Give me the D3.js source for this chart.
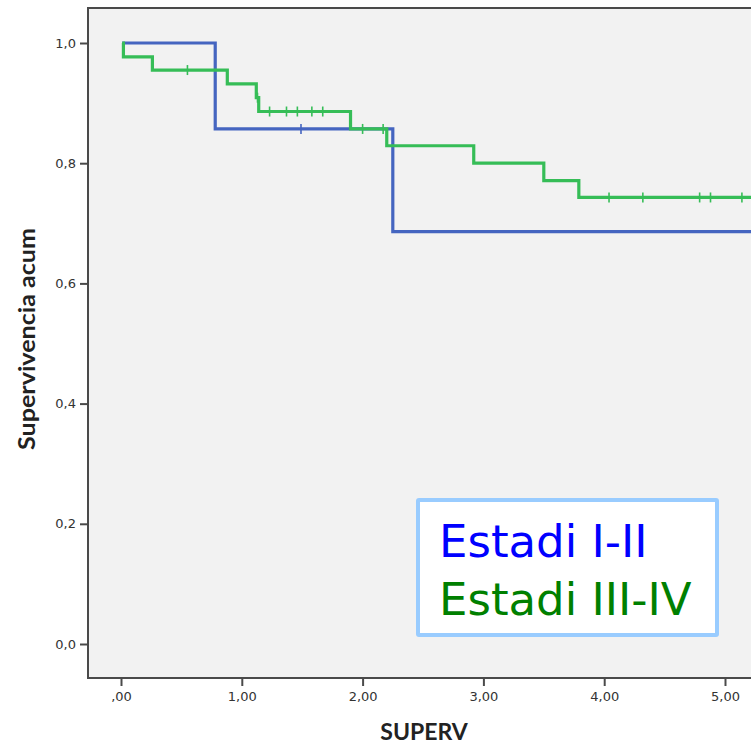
<!DOCTYPE html>
<html>
<head>
<meta charset="utf-8">
<script src="https://cdn.jsdelivr.net/npm/d3@7"></script>
<style>
  html, body { margin: 0; padding: 0; background: #ffffff; }
  svg { display: block; }
</style>
</head>
<body>
<svg id="chart" width="751" height="745"></svg>
<script>
// Kaplan–Meier survival by stage (SUPERV in years)
const groups = ["Estadi I-II", "Estadi III-IV"];
const legendColors = ["#0000ff", "#008000"];
const lineColors = ["#4565c0", "#36bd57"];

// Estadi I-II
const eventTimesA = [0.78, 2.25];
const survivalA = [1.0, 0.857, 0.686];
const censorTimesA = [1.49];

// Estadi III-IV
const eventTimesB = [0.02, 0.26, 0.88, 1.12, 1.14, 1.90, 2.20, 2.92, 3.50, 3.79];
const survivalB = [1.0, 0.977, 0.955, 0.932, 0.909, 0.886, 0.857, 0.829, 0.800, 0.771, 0.743];
const censorTimesB = [0.55, 1.13, 1.23, 1.37, 1.46, 1.58, 1.67, 2.00, 2.17, 4.04, 4.32, 4.79, 4.88, 5.14];

const startTime = 0.01;
const endTime = 5.6;

const xTicks = [0, 1, 2, 3, 4, 5];
const xTickLabels = [",00", "1,00", "2,00", "3,00", "4,00", "5,00"];
const yTicks = [0, 0.2, 0.4, 0.6, 0.8, 1.0];
const yTickLabels = ["0,0", "0,2", "0,4", "0,6", "0,8", "1,0"];

const xTitle = "SUPERV";
const yTitle = "Supervivencia acum";

// layout
const frame = { left: 88, top: 8, right: 790, bottom: 678 };
const svg = d3.select("#chart");

const x = d3.scaleLinear().domain([0, 5]).range([121, 725]);
const y = d3.scaleLinear().domain([0, 1]).range([644, 43]);

svg.append("defs").append("clipPath").attr("id", "plotClip")
  .append("rect")
  .attr("x", frame.left).attr("y", frame.top)
  .attr("width", frame.right - frame.left).attr("height", frame.bottom - frame.top);

// plot background
svg.append("rect")
  .attr("x", frame.left).attr("y", frame.top)
  .attr("width", frame.right - frame.left).attr("height", frame.bottom - frame.top)
  .attr("fill", "#f2f2f2")
  .attr("stroke", "#4a4a4a").attr("stroke-width", 2);

// axes
const xAxis = d3.axisBottom(x).tickValues(xTicks)
  .tickFormat((d, i) => xTickLabels[i]).tickSize(8).tickSizeOuter(0);
const yAxis = d3.axisLeft(y).tickValues(yTicks)
  .tickFormat((d, i) => yTickLabels[i]).tickSize(8).tickSizeOuter(0);

const gx = svg.append("g").attr("transform", `translate(0,${frame.bottom})`).call(xAxis);
gx.select(".domain").remove();
gx.selectAll("line").attr("stroke", "#4a4a4a").attr("stroke-width", 2);
gx.selectAll("text").attr("font-family", "DejaVu Sans, Verdana, sans-serif")
  .attr("font-size", 13).attr("fill", "#333").attr("dy", "1.05em").attr("y", 9);

const gy = svg.append("g").attr("transform", `translate(${frame.left},0)`).call(yAxis);
gy.select(".domain").remove();
gy.selectAll("line").attr("stroke", "#4a4a4a").attr("stroke-width", 2);
gy.selectAll("text").attr("font-family", "DejaVu Sans, Verdana, sans-serif")
  .attr("font-size", 13).attr("fill", "#333").attr("x", -12);

// axis titles
svg.append("text")
  .attr("x", 424).attr("y", 740)
  .attr("text-anchor", "middle")
  .attr("font-family", "Lato, 'Open Sans', sans-serif")
  .attr("font-weight", "bold").attr("font-size", 23).attr("fill", "#222")
  .text(xTitle);

svg.append("text")
  .attr("transform", "translate(35,339) rotate(-90)")
  .attr("text-anchor", "middle")
  .attr("font-family", "Lato, 'Open Sans', sans-serif")
  .attr("font-weight", "bold").attr("font-size", 23).attr("fill", "#222")
  .attr("textLength", 222).attr("lengthAdjust", "spacingAndGlyphs")
  .text(yTitle);

// survival curves
function stepPoints(events, surv) {
  const pts = [[startTime, surv[0]]];
  events.forEach((t, i) => pts.push([t, surv[i + 1]]));
  pts.push([endTime, surv[surv.length - 1]]);
  return pts;
}
function survivalAt(t, events, surv) {
  const i = d3.bisectRight(events, t);
  return surv[i];
}

const line = d3.line().x(d => x(d[0])).y(d => y(d[1])).curve(d3.curveStepAfter);
const plot = svg.append("g").attr("clip-path", "url(#plotClip)");

const series = [
  { events: eventTimesA, surv: survivalA, censors: censorTimesA, color: lineColors[0] },
  { events: eventTimesB, surv: survivalB, censors: censorTimesB, color: lineColors[1] }
];

series.forEach(s => {
  plot.append("path")
    .datum(stepPoints(s.events, s.surv))
    .attr("d", line)
    .attr("fill", "none")
    .attr("stroke", s.color)
    .attr("stroke-width", 3.2);
  plot.selectAll(null)
    .data(s.censors)
    .join("line")
    .attr("x1", d => x(d)).attr("x2", d => x(d))
    .attr("y1", d => y(survivalAt(d, s.events, s.surv)) - 5)
    .attr("y2", d => y(survivalAt(d, s.events, s.surv)) + 5)
    .attr("stroke", s.color).attr("stroke-width", 1.6);
});

// legend
const legend = svg.append("g");
legend.append("rect")
  .attr("x", 418).attr("y", 500).attr("width", 299).attr("height", 135)
  .attr("rx", 1)
  .attr("fill", "#ffffff").attr("stroke", "#99ccff").attr("stroke-width", 4);
legend.selectAll("text")
  .data(groups)
  .join("text")
  .attr("x", 439)
  .attr("y", (d, i) => 557 + i * 58)
  .attr("font-family", "DejaVu Sans, Verdana, sans-serif")
  .attr("font-size", 45)
  .attr("fill", (d, i) => legendColors[i])
  .text(d => d);
</script>
</body>
</html>
